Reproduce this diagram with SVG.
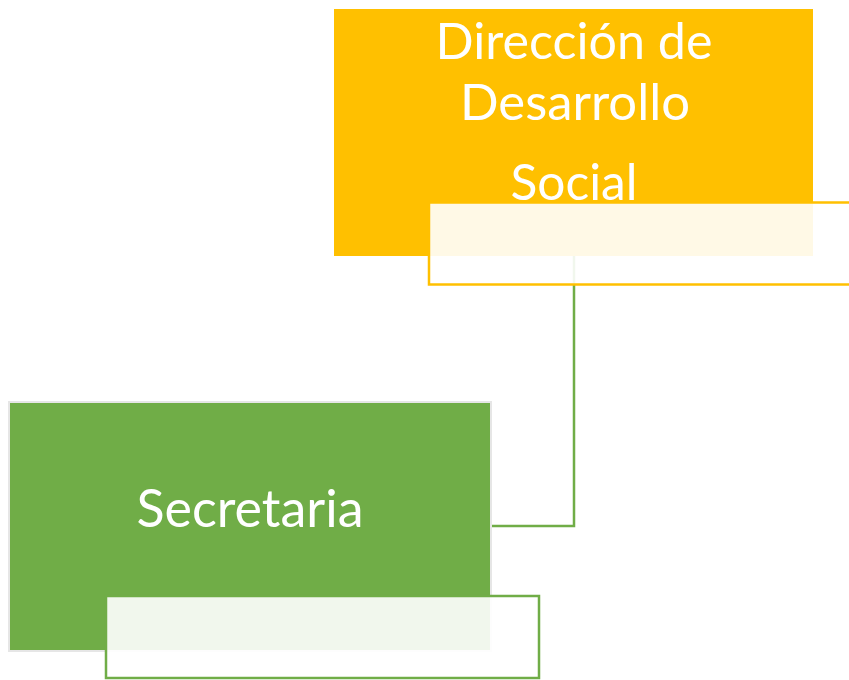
<svg xmlns="http://www.w3.org/2000/svg" width="849" height="680" viewBox="0 0 849 680">
<style>
.lbl{font-family:Lato,"Open Sans","DejaVu Sans",sans-serif;fill:#FFFFFF;text-anchor:middle}
.ov{fill:#FFFFFF;fill-opacity:0.9;stroke-width:2.5}
.conn{fill:none;stroke:#70AD47;stroke-width:2.5}
</style>
<rect width="849" height="680" fill="#FFFFFF"/>
<g id="node-direccion">
<rect x="334" y="9" width="479" height="247" fill="#FFC000"/>
<text class="lbl" x="574" y="59" font-size="50" textLength="277" lengthAdjust="spacingAndGlyphs">Dirección de</text>
<text class="lbl" x="575" y="120" font-size="50" textLength="230" lengthAdjust="spacingAndGlyphs">Desarrollo</text>
<text class="lbl" x="574" y="200" font-size="50" textLength="127" lengthAdjust="spacingAndGlyphs">Social</text>
</g>
<g id="node-secretaria">
<rect x="9" y="402" width="482" height="249" fill="#70AD47" stroke="#E6E6E6" stroke-width="2"/>
<text class="lbl" x="250" y="527" font-size="52" textLength="227" lengthAdjust="spacingAndGlyphs">Secretaria</text>
</g>
<g id="connectors">
<polyline class="conn" points="574,256 574,526 492,526"/>
</g>
<g id="node-direccion-sub">
<rect class="ov" x="429" y="202.5" width="430" height="82" stroke="#FFC000"/>
</g>
<g id="node-secretaria-sub">
<rect class="ov" x="106" y="596" width="433" height="82" stroke="#70AD47"/>
</g>
</svg>
